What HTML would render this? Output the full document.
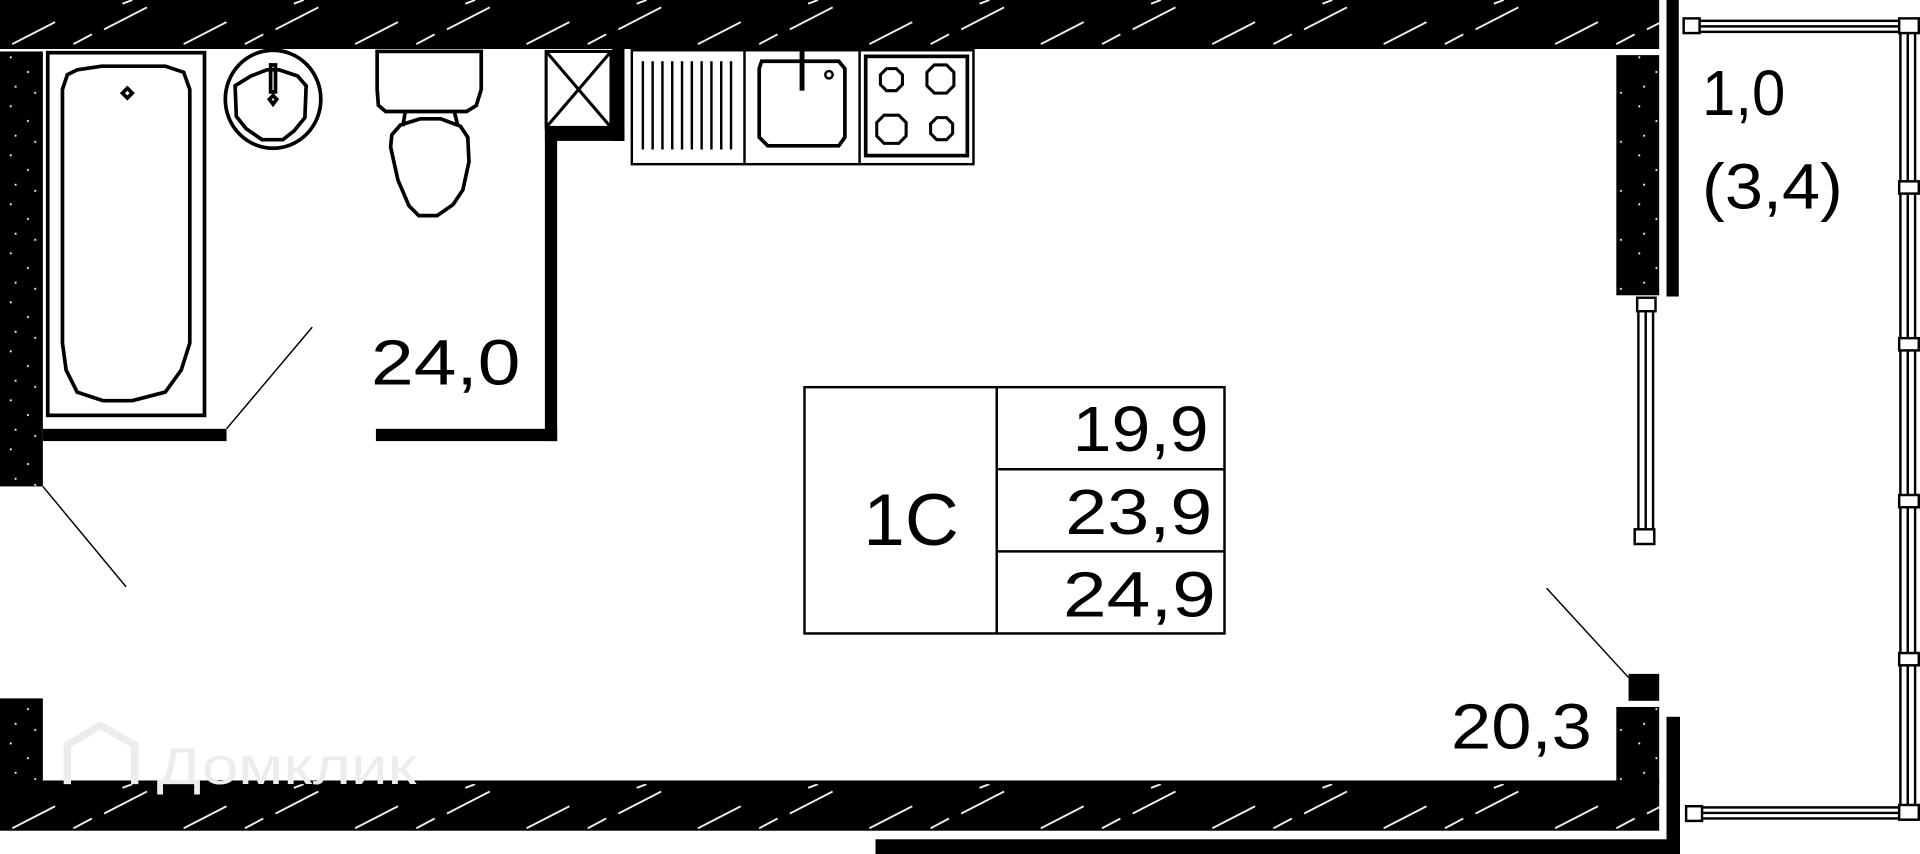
<!DOCTYPE html>
<html><head><meta charset="utf-8"><style>
html,body{margin:0;padding:0;background:#fff;width:1920px;height:854px;overflow:hidden}
svg{display:block}
text{font-family:"Liberation Sans",sans-serif;fill:#000}
</style></head><body>
<svg width="1920" height="854" viewBox="0 0 1568 697" preserveAspectRatio="none" xmlns="http://www.w3.org/2000/svg">
<defs>
<pattern id="hatch" width="140" height="40" patternUnits="userSpaceOnUse">
<rect width="140" height="40" fill="#000"/>
<g stroke="#fff" stroke-width="1.5">
<line x1="10" y1="36" x2="45" y2="18"/><line x1="60" y1="36" x2="75" y2="28"/><line x1="85" y1="24" x2="120" y2="6"/><line x1="100" y1="3" x2="108" y2="0"/>
</g></pattern>
<pattern id="speck" width="35" height="40" patternUnits="userSpaceOnUse">
<rect width="35" height="40" fill="#000"/>
<g fill="#fff"><rect x="8" y="6" width="1.5" height="1.5"/><rect x="22" y="18" width="1.5" height="1.5"/><rect x="12" y="30" width="1.5" height="1.5"/><rect x="28" y="35" width="1.5" height="1.5"/></g>
</pattern>
</defs>
<!-- walls -->
<rect x="0" y="0" width="1355" height="40" fill="url(#hatch)"/>
<rect x="0" y="42" width="35" height="355" fill="url(#speck)"/>
<rect x="0" y="570" width="35" height="70" fill="url(#speck)"/>
<rect x="0" y="637" width="1355" height="41" fill="url(#hatch)"/>
<rect x="715" y="685" width="657" height="12" fill="#000"/>
<rect x="1361" y="585" width="11" height="112" fill="#000"/>
<rect x="1320" y="45" width="35" height="196" fill="url(#speck)"/>
<rect x="1361" y="0" width="10" height="242" fill="#000"/>
<rect x="1320" y="577" width="35" height="63" fill="url(#speck)"/>
<rect x="1330" y="550" width="25" height="22" fill="#000"/>
<!-- window -->
<g fill="#fff" stroke="#000" stroke-width="2">
<rect x="1338" y="250" width="12" height="185"/>
<line x1="1344" y1="250" x2="1344" y2="435"/>
<rect x="1337" y="243" width="15" height="11"/>
<rect x="1335" y="432" width="16" height="12"/>
</g>
<!-- balcony -->
<g fill="#fff" stroke="#000" stroke-width="2">
<rect x="1385" y="17" width="170" height="9"/><line x1="1385" y1="21.5" x2="1555" y2="21.5"/>
<rect x="1385" y="659" width="170" height="9"/><line x1="1385" y1="663.5" x2="1555" y2="663.5"/>
<rect x="1552" y="17" width="12" height="651"/><line x1="1558" y1="17" x2="1558" y2="668"/>
<rect x="1375" y="15" width="13" height="12"/>
<rect x="1377" y="658" width="13" height="12"/>
<rect x="1551" y="15" width="16" height="12"/>
<rect x="1551" y="148" width="16" height="10"/>
<rect x="1551" y="276" width="16" height="10"/>
<rect x="1551" y="404" width="16" height="10"/>
<rect x="1551" y="533" width="16" height="10"/>
<rect x="1551" y="657" width="16" height="12"/>
</g>
<!-- partitions -->
<rect x="35" y="350" width="150" height="10" fill="#000"/>
<rect x="307" y="350" width="148" height="10" fill="#000"/>
<rect x="445" y="105" width="10" height="255" fill="#000"/>
<rect x="445" y="105" width="65" height="10" fill="#000"/>
<rect x="500" y="40" width="10" height="75" fill="#000"/>
<rect x="446" y="42" width="53" height="62" fill="#fff" stroke="#000" stroke-width="2.5"/>
<line x1="446" y1="42" x2="499" y2="104" stroke="#000" stroke-width="2.5"/>
<line x1="499" y1="42" x2="446" y2="104" stroke="#000" stroke-width="2.5"/>
<!-- door swings -->
<g stroke="#000" stroke-width="1.2">
<line x1="185" y1="350" x2="255" y2="267"/>
<line x1="35" y1="397" x2="103" y2="479"/>
<line x1="1263" y1="480" x2="1330" y2="553"/>
</g>
<!-- bath -->
<g fill="none" stroke="#000" stroke-width="3">
<rect x="39" y="43" width="128" height="296"/>
<path d="M63 57 L83 54 L135 54 L150 59 L155 73 L155 280 L148 302 L135 320 L108 327 L84 327 L63 320 L54 302 L51 280 L51 73 L55 61 Z"/>
<path d="M104 72 L108 76 L104 80 L100 76 Z"/>
<!-- sink -->
<ellipse cx="223" cy="81" rx="39" ry="40"/>
<path d="M205 62 L218 57 L228 57 L243 62 L250 70 L249 96 L240 107 L231 114 L214 114 L201 105 L193 95 L192 70 Z"/>
<path d="M223 78 L226 81 L223 85 L220 81 Z"/>
<rect x="221" y="53" width="4" height="22"/>
<!-- toilet -->
<path d="M308 42 L393 42 L393 73 L389 86 L381 91 L315 91 L309 86 L308 73 Z"/>
<path d="M331 91 L329 103 M371 91 L374 103"/>
<path d="M327 102 L343 97 L360 97 L376 103 L382 112 L383 132 L378 155 L370 167 L357 176 L342 176 L334 168 L325 147 L319 120 L320 110 Z"/>
<!-- kitchen -->
<rect x="516" y="41" width="279" height="93" stroke-width="2"/>
<line x1="608" y1="41" x2="608" y2="134" stroke-width="2"/>
<line x1="702" y1="41" x2="702" y2="134" stroke-width="2"/>
<path d="M622 50 L685 50 L690 56 L690 112 L685 119 L627 119 L620 112 L620 56 Z"/>
<rect x="707" y="46" width="83" height="81"/>
<circle cx="677" cy="61" r="3" stroke-width="2"/>
</g>
<rect x="653" y="42" width="4" height="32" fill="#000"/>
<g stroke="#000" stroke-width="2">
<line x1="525" y1="50" x2="525" y2="122"/><line x1="533" y1="50" x2="533" y2="122"/><line x1="541" y1="50" x2="541" y2="122"/><line x1="549" y1="50" x2="549" y2="122"/><line x1="557" y1="50" x2="557" y2="122"/><line x1="565" y1="50" x2="565" y2="122"/><line x1="573" y1="50" x2="573" y2="122"/><line x1="581" y1="50" x2="581" y2="122"/><line x1="589" y1="50" x2="589" y2="122"/><line x1="597" y1="50" x2="597" y2="122"/>
</g>
<g fill="none" stroke="#000" stroke-width="2.5">
<polygon points="724,56 732,56 737,61 737,69 732,74 724,74 719,69 719,61"/>
<polygon points="763,53 773,53 779,59 779,70 773,76 763,76 757,70 757,59"/>
<polygon points="722,94 734,94 740,100 740,111 734,117 722,117 716,111 716,100"/>
<polygon points="765,96 773,96 778,101 778,109 773,114 765,114 760,109 760,101"/>
</g>
<!-- table -->
<g fill="none" stroke="#000" stroke-width="2">
<rect x="657" y="316" width="343" height="201"/>
<line x1="814" y1="316" x2="814" y2="517"/>
<line x1="814" y1="383" x2="1000" y2="383"/>
<line x1="814" y1="450" x2="1000" y2="450"/>
</g>
<text x="705" y="445" font-size="60" textLength="78" lengthAdjust="spacingAndGlyphs">1C</text>
<text x="876" y="368" font-size="52" textLength="111" lengthAdjust="spacingAndGlyphs">19,9</text>
<text x="870" y="436" font-size="52" textLength="120" lengthAdjust="spacingAndGlyphs">23,9</text>
<text x="868" y="503" font-size="52" textLength="125" lengthAdjust="spacingAndGlyphs">24,9</text>
<text x="303" y="314" font-size="52" textLength="122" lengthAdjust="spacingAndGlyphs">24,0</text>
<text x="1185" y="611" font-size="52" textLength="115" lengthAdjust="spacingAndGlyphs">20,3</text>
<text x="1390" y="94" font-size="52" textLength="68" lengthAdjust="spacingAndGlyphs">1,0</text>
<text x="1390" y="170" font-size="52" textLength="115" lengthAdjust="spacingAndGlyphs">(3,4)</text>
<text x="128" y="640" font-size="42" textLength="212" lengthAdjust="spacingAndGlyphs" style="fill:#ececec">Домклик</text>
<path d="M55 640 L55 608 L82 592 L110 608 L110 640" fill="none" stroke="#ececec" stroke-width="6"/>
</svg>
</body></html>
